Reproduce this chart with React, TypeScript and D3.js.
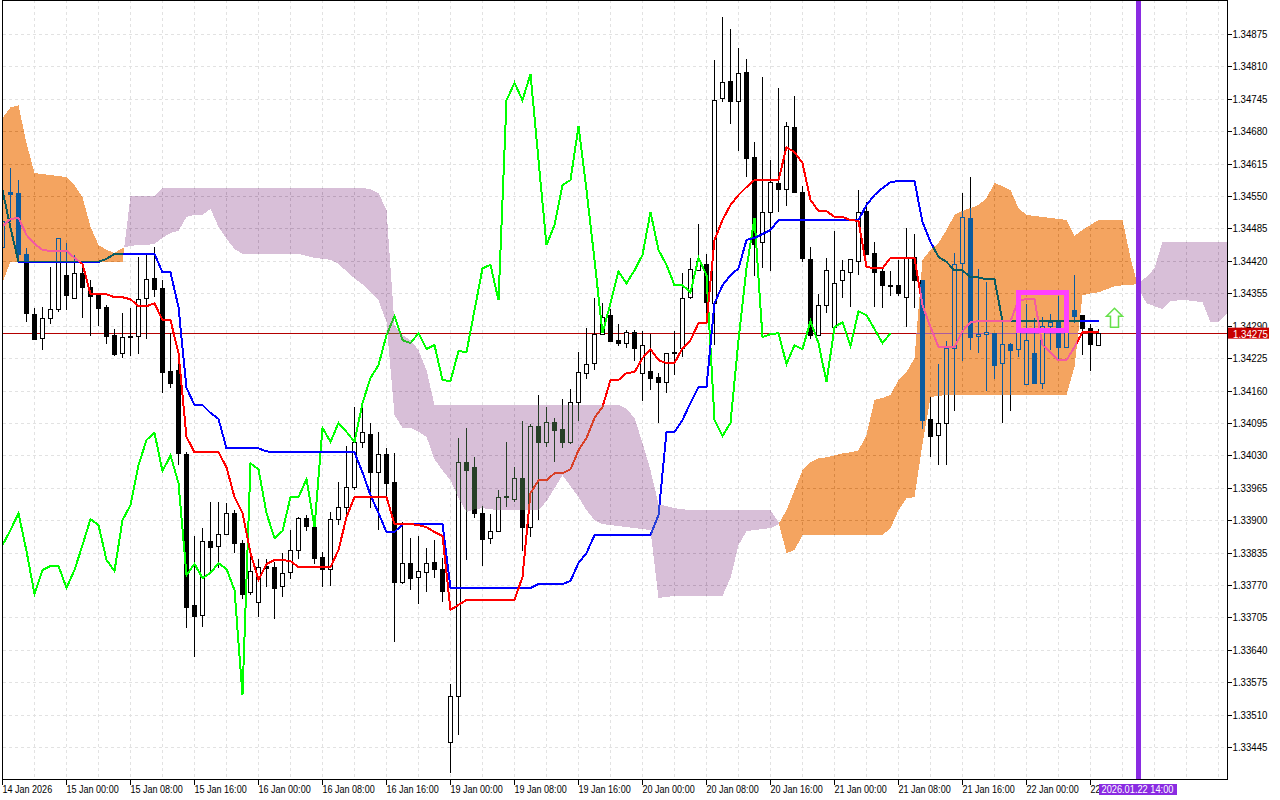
import * as d3 from "d3";
import { useEffect, useRef } from "react";

// all prices are in points (1.34275 = 134275), bar index 0 is the left edge
const opens = [
  134447,134559,134557,134433,134314,134266,134306,134324,134392,134346,
  134396,134368,134354,134328,134272,134236,134268,134270,134346,134386,
  134366,134200,134202,134033,133729,133709,133859,133849,133873,133915,
  133855,133755,133735,133809,133807,133767,133795,133841,133905,133887,
  133827,133801,133903,133927,133967,134056,134072,133997,134033,133977,
  133775,133815,133785,133795,133817,133803,133456,133548,134017,134007,
  133915,133865,133879,133947,133943,133985,133887,134088,134056,134096,
  134082,134056,134136,134196,134216,134274,134312,134262,134256,134278,
  134196,134200,134188,134178,134236,134246,134348,134402,134413,134336,
  134747,134780,134741,134798,134629,134457,134519,134577,134565,134689,
  134559,134423,134272,134332,134288,134382,134398,134419,134521,134435,
  134400,134372,134372,134348,134427,134382,134102,134070,134094,134246,
  134415,134505,134270,134274,134276,134216,134254,134244,134174,134236,
  134176,134290,134298,134248,134322,134312,134286,134252,
];
const highs = [
  134573,134607,134583,134447,134326,134328,134409,134467,134457,134433,
  134417,134382,134356,134332,134284,134316,134326,134429,134435,134449,
  134382,134276,134242,134037,133869,133885,133937,133937,133935,133921,
  133861,133845,133823,133823,133817,133835,133881,133907,133911,133905,
  133837,133917,133977,134049,134128,134128,134096,134078,134045,134035,
  133897,133865,133869,133845,133861,133825,133572,134066,134086,134027,
  133929,133913,133961,134058,134007,134100,134094,134152,134128,134106,
  134144,134164,134238,134286,134346,134336,134324,134294,134282,134282,
  134280,134274,134196,134236,134280,134396,134427,134495,134435,134824,
  134910,134886,134848,134826,134659,134790,134623,134768,134699,134751,
  134571,134449,134354,134427,134481,134423,134423,134563,134539,134459,
  134409,134400,134423,134487,134475,134382,134148,134214,134260,134437,
  134557,134589,134404,134378,134276,134308,134256,134332,134334,134306,
  134308,134314,134350,134318,134392,134312,134294,134284,
];
const lows = [
  134427,134499,134419,134298,134262,134242,134294,134318,134322,134346,
  134306,134270,134290,134254,134230,134226,134230,134234,134264,134348,
  134156,134166,134011,133684,133626,133686,133797,133805,133873,133835,
  133743,133751,133707,133767,133703,133747,133783,133823,133879,133813,
  133767,133769,133891,133907,133961,134045,133925,133881,133947,133656,
  133773,133761,133733,133757,133785,133737,133394,133470,133821,133905,
  133809,133853,133877,133927,133937,133839,133867,133901,134047,134017,
  134045,134054,134100,134184,134202,134274,134258,134250,134246,134220,
  134140,134162,134096,134156,134192,134228,134344,134400,134306,134252,
  134739,134695,134641,134589,134390,134406,134400,134519,134531,134557,
  134419,134264,134272,134316,134286,134346,134328,134392,134433,134328,
  134326,134350,134350,134288,134326,134084,134027,134011,134011,134120,
  134220,134242,134236,134160,134184,134096,134120,134228,134174,134176,
  134164,134242,134222,134248,134296,134232,134200,134252,
];
const closes = [
  134499,134555,134433,134316,134264,134306,134324,134465,134352,134396,
  134368,134350,134326,134270,134234,134268,134269,134344,134384,134364,
  134198,134176,134035,133725,133707,133859,133847,133873,133915,133855,
  133751,133797,133807,133805,133763,133793,133841,133905,133889,133825,
  133801,133903,133927,133967,134056,134076,133997,134033,133975,133775,
  133815,133783,133797,133815,133801,133757,133548,134017,134001,133915,
  133863,133879,133947,133949,133985,133887,134088,134056,134096,134080,
  134056,134136,134198,134214,134274,134308,134260,134256,134278,134246,
  134252,134186,134178,134236,134237,134346,134404,134419,134338,134743,
  134778,134741,134796,134627,134453,134519,134579,134565,134691,134559,
  134425,134272,134332,134402,134376,134402,134423,134519,134433,134398,
  134372,134370,134356,134425,134382,134100,134068,134094,134246,134413,
  134507,134268,134274,134278,134212,134254,134242,134300,134262,134176,
  134290,134298,134248,134298,134310,134286,134254,134275,
];

const tenkan = [
  134491,134505,134507,134473,134455,134443,134441,134441,134441,134427,
  134415,134354,134354,134354,134348,134348,134344,134330,134330,134336,
  134302,134302,134236,134068,134037,134037,134037,134037,134007,133947,
  133915,133835,133781,133813,133821,133821,133819,133807,133807,133807,
  133807,133807,133841,133907,133947,133947,133947,133947,133947,133893,
  133893,133893,133891,133887,133877,133869,133721,133731,133741,133741,
  133741,133741,133741,133741,133741,133787,133955,133981,133981,133995,
  133995,134003,134041,134066,134106,134128,134182,134182,134196,134198,
  134226,134244,134222,134216,134216,134246,134262,134296,134296,134463,
  134503,134533,134553,134569,134583,134583,134583,134583,134649,134639,
  134617,134543,134521,134521,134509,134509,134503,134501,134409,134406,
  134406,134427,134427,134427,134427,134332,134288,134248,134248,134248,
  134280,134298,134300,134300,134300,134300,134300,134342,134344,134344,
  134252,134238,134222,134222,134248,134278,134278,134278,
];
const kijun = [
  134563,134487,134419,134419,134419,134419,134419,134419,134419,134419,
  134419,134419,134419,134425,134435,134435,134435,134435,134435,134435,
  134398,134398,134328,134166,134132,134132,134116,134104,134045,134045,
  134045,134045,134045,134039,134037,134037,134037,134037,134037,134037,
  134037,134037,134037,134037,134037,133997,133951,133915,133877,133877,
  133893,133893,133893,133893,133893,133893,133765,133765,133765,133765,
  133765,133765,133765,133765,133765,133765,133765,133773,133773,133773,
  133773,133779,133815,133835,133871,133871,133871,133871,133871,133871,
  133871,133871,133911,134078,134078,134102,134136,134168,134168,134336,
  134372,134392,134406,134463,134467,134475,134483,134503,134503,134503,
  134503,134503,134503,134503,134503,134503,134503,134503,134533,134553,
  134567,134579,134581,134581,134581,134499,134459,134429,134419,134402,
  134402,134388,134388,134384,134384,134300,134300,134300,134300,134300,
  134300,134300,134300,134300,134300,134300,134300,134300,
];
const chikou = [
  133851,133881,133915,133839,133753,133801,133809,133809,133765,133801,
  133851,133903,133891,133821,133799,133901,133931,134011,134062,134076,
  133999,134031,133975,133791,133813,133785,133795,133815,133803,133761,
  133550,134015,134003,133915,133865,133879,133947,133947,133983,133887,
  134086,134058,134096,134078,134058,134136,134186,134212,134272,134310,
  134262,134256,134276,134244,134252,134182,134180,134240,134238,134322,
  134406,134413,134342,134743,134778,134743,134796,134623,134453,134493,
  134573,134583,134691,134563,134423,134276,134336,134400,134376,134402,
  134433,134519,134443,134413,134372,134372,134358,134427,134392,134102,
  134070,134096,134262,134406,134507,134268,134274,134276,134214,134252,
  134244,134300,134256,134178,134288,134298,134250,134320,134312,134284,
  134256,134276,
];
const spanA = [
  134707,134729,134733,134657,134597,134595,134593,134591,134589,134573,
  134549,134489,134453,134443,134437,134447,134451,134453,134453,134455,
  134467,134477,134481,134509,134513,134513,134525,134489,134465,134445,
  134435,134435,134435,134435,134435,134435,134435,134435,134431,134427,
  134425,134423,134415,134400,134386,134374,134358,134342,134298,134112,
  134086,134086,134078,134068,134023,134001,133981,133945,133917,133923,
  133925,133923,133921,133921,133921,133921,133921,133921,133939,133965,
  133991,133969,133947,133921,133901,133893,133891,133889,133887,133885,
  133883,133881,133745,133747,133749,133749,133749,133749,133749,133749,
  133749,133785,133851,133879,133881,133883,133885,133893,133921,133961,
  134001,134017,134025,134027,134031,134035,134037,134041,134072,134142,
  134146,134152,134182,134198,134226,134423,134443,134457,134483,134513,
  134521,134527,134533,134547,134577,134571,134563,134527,134513,134511,
  134509,134507,134505,134503,134471,134483,134493,134503,134503,134503,
  134503,134427,134366,134336,134330,134324,134340,134342,134342,134340,
  134338,134298,134298,134314,
];
const spanB = [
  134378,134419,134419,134419,134419,134419,134419,134419,134419,134419,
  134419,134419,134419,134419,134419,134419,134551,134551,134551,134551,
  134567,134567,134567,134567,134567,134567,134567,134567,134567,134567,
  134567,134567,134567,134567,134567,134567,134567,134567,134567,134567,
  134567,134567,134567,134567,134567,134567,134565,134557,134523,134292,
  134272,134262,134242,134202,134132,134132,134132,134132,134132,134132,
  134132,134132,134132,134132,134132,134132,134132,134132,134132,134132,
  134132,134132,134132,134132,134132,134132,134132,134132,134124,134106,
  134056,134001,133933,133929,133925,133923,133921,133921,133921,133921,
  133921,133921,133921,133921,133921,133921,133921,133897,133835,133841,
  133871,133871,133871,133871,133871,133871,133871,133871,133871,133871,
  133871,133885,133921,133945,133947,134054,134148,134150,134152,134152,
  134152,134152,134152,134152,134152,134152,134152,134152,134152,134152,
  134152,134152,134152,134152,134208,134352,134356,134358,134364,134370,
  134372,134372,134376,134389,134406,134459,134459,134459,134459,134459,
  134459,134459,134459,134459,
];

const priceTicks = [
  134875,134810,134745,134680,134615,134550,134485,134420,134355,134290,134225,134160,
  134095,134030,133965,133900,133835,133770,133705,133640,133575,133510,133445,
];
const timeBars = [0,8,16,24,32,40,48,56,64,72,80,88,96,104,112,120,128,136];
const timeLabels = [
  "14 Jan 2026","15 Jan 00:00","15 Jan 08:00","15 Jan 16:00","16 Jan 00:00","16 Jan 08:00",
  "16 Jan 16:00","19 Jan 00:00","19 Jan 08:00","19 Jan 16:00","20 Jan 00:00","20 Jan 08:00",
  "20 Jan 16:00","21 Jan 00:00","21 Jan 08:00","21 Jan 16:00","22 Jan 00:00","22",
];
const lastPrice = 134275;
const markerBar = 142;
const markerLabel = "2026.01.22 14:00";
const boxBars = [127, 133];
const boxPrices = [134358, 134282];
const arrowBar = 139;
const arrowPrice = 134326;

const fontFamily = "'Liberation Sans',sans-serif";

// the terminal font is narrower than anything installed, squeeze the glyphs a bit
function squeeze(node: SVGTextElement, factor: number) {
  node.setAttribute("textLength", String(node.getComputedTextLength() * factor));
  node.setAttribute("lengthAdjust", "spacingAndGlyphs");
}

export default function App() {
  const svgRef = useRef<SVGSVGElement | null>(null);

  useEffect(() => {
    if (!svgRef.current) return;
    const svg = d3.select(svgRef.current);
    const width = 1280;
    const height = 800;
    const left = 2.5;
    const right = 1227.5;
    const bottom = 779.5;

    svg.selectAll("*").remove();

    const x = d3.scaleLinear().domain([0, 153]).range([2.5, 1226.5]);
    const y = d3.scaleLinear().domain([134875, 133445]).range([34.5, 747.5]);

    svg.append("rect").attr("width", width).attr("height", height).attr("fill", "#fff");

    svg
      .append("clipPath")
      .attr("id", "plot")
      .append("rect")
      .attr("x", left)
      .attr("y", 0)
      .attr("width", right - left)
      .attr("height", bottom);

    const plot = svg.append("g").attr("clip-path", "url(#plot)").attr("shape-rendering", "crispEdges");

    // the clip isolates this group, so the blend needs its own white backdrop
    plot.append("rect").attr("width", width).attr("height", height).attr("fill", "#fff");

    // grid
    plot
      .selectAll("line.h")
      .data(priceTicks)
      .join("line")
      .attr("class", "h")
      .attr("x1", left)
      .attr("x2", right)
      .attr("y1", (d) => y(d))
      .attr("y2", (d) => y(d))
      .attr("stroke", "#e2e2e2")
      .attr("stroke-dasharray", "3,3");
    plot
      .selectAll("line.v")
      .data(d3.range(4, 154, 4))
      .join("line")
      .attr("class", "v")
      .attr("x1", (d) => x(d))
      .attr("x2", (d) => x(d))
      .attr("y1", 0)
      .attr("y2", bottom)
      .attr("stroke", "#e2e2e2")
      .attr("stroke-dasharray", "3,3");

    // last price line
    plot
      .append("line")
      .attr("x1", left)
      .attr("x2", right)
      .attr("y1", y(lastPrice))
      .attr("y2", y(lastPrice))
      .attr("stroke", "#b40000");

    // candles
    const bars = opens.map((o, i) => ({ i, o, h: highs[i], l: lows[i], c: closes[i] }));
    const candle = plot.append("g").selectAll("g").data(bars).join("g");
    candle
      .append("line")
      .attr("x1", (d) => x(d.i))
      .attr("x2", (d) => x(d.i))
      .attr("y1", (d) => y(d.h))
      .attr("y2", (d) => y(d.l))
      .attr("stroke", "#000");
    candle
      .append("rect")
      .attr("x", (d) => x(d.i) - 2)
      .attr("width", 4)
      .attr("y", (d) => y(Math.max(d.o, d.c)))
      .attr("height", (d) => Math.max(0, Math.abs(y(d.o) - y(d.c))))
      .attr("fill", (d) => (d.c >= d.o ? "#fff" : "#000"))
      .attr("stroke", "#000");

    // indicator lines
    const line = d3
      .line<number>()
      .x((_, i) => x(i))
      .y((d) => y(d));
    const lines: [number[], string][] = [
      [chikou, "#00ff00"],
      [kijun, "#0000ff"],
      [tenkan, "#ff0000"],
    ];
    lines.forEach(([values, colour]) => {
      plot
        .append("path")
        .datum(values)
        .attr("fill", "none")
        .attr("stroke", colour)
        .attr("stroke-width", 2)
        .attr("d", line);
    });

    // cloud, crossing points added so both colours meet at the cross
    const cloud: { i: number; a: number; b: number }[] = [];
    spanA.forEach((a, i) => {
      const b = spanB[i];
      cloud.push({ i, a, b });
      if (i < spanA.length - 1) {
        const d0 = a - b;
        const d1 = spanA[i + 1] - spanB[i + 1];
        if (d0 * d1 < 0) {
          const t = d0 / (d0 - d1);
          const v = a + (spanA[i + 1] - a) * t;
          cloud.push({ i: i + t, a: v, b: v });
        }
      }
    });
    const area = (up: boolean) =>
      d3
        .area<{ i: number; a: number; b: number }>()
        .defined((d) => (up ? d.a >= d.b : d.b >= d.a))
        .x((d) => x(d.i))
        .y0((d) => y(d.a))
        .y1((d) => y(d.b));
    // fills are the inverse of sandybrown / thistle, so white shows the real colour
    plot
      .append("path")
      .datum(cloud)
      .attr("fill", "rgb(11,91,159)")
      .style("mix-blend-mode", "difference")
      .attr("d", area(true));
    plot
      .append("path")
      .datum(cloud)
      .attr("fill", "rgb(39,64,39)")
      .style("mix-blend-mode", "difference")
      .attr("d", area(false));

    // box and arrow objects
    plot
      .append("rect")
      .attr("x", x(boxBars[0]))
      .attr("y", y(boxPrices[0]))
      .attr("width", x(boxBars[1]) - x(boxBars[0]))
      .attr("height", y(boxPrices[1]) - y(boxPrices[0]))
      .attr("fill", "none")
      .attr("stroke", "#ff40ff")
      .attr("stroke-width", 5);
    plot
      .append("path")
      .attr("transform", `translate(${x(arrowBar)},${y(arrowPrice)})`)
      .attr("d", "M0,0L8,8H4V19H-4V8H-8Z")
      .attr("fill", "#fff")
      .attr("stroke", "#66e04a")
      .attr("stroke-width", 1.5)
      .attr("shape-rendering", "auto");

    // marker line
    plot
      .append("line")
      .attr("x1", x(markerBar))
      .attr("x2", x(markerBar))
      .attr("y1", 0)
      .attr("y2", bottom)
      .attr("stroke", "#8a2be2")
      .attr("stroke-width", 5);

    // frame
    svg
      .append("rect")
      .attr("x", left)
      .attr("y", 0.5)
      .attr("width", right - left)
      .attr("height", bottom - 0.5)
      .attr("fill", "none")
      .attr("stroke", "#000")
      .attr("shape-rendering", "crispEdges");

    // axes
    const yAxis = d3
      .axisRight(y)
      .tickValues(priceTicks)
      .tickSize(4)
      .tickPadding(1)
      .offset(0)
      .tickFormat((d) => ((d as number) / 1e5).toFixed(5));
    const yg = svg.append("g").attr("transform", `translate(${right},0)`).call(yAxis as any);
    const xAxis = d3
      .axisBottom(x)
      .tickValues(timeBars)
      .tickSize(5)
      .tickPadding(0)
      .offset(0)
      .tickFormat((d) => timeLabels[timeBars.indexOf(d as number)]);
    const xg = svg.append("g").attr("transform", `translate(0,${bottom})`).call(xAxis as any);

    [yg, xg].forEach((g) => {
      g.select(".domain").remove();
      g.attr("shape-rendering", "crispEdges");
      g.selectAll("line").attr("stroke", "#000");
      g.selectAll("text")
        .attr("fill", "#000")
        .attr("font-family", fontFamily)
        .attr("font-size", 11);
    });
    xg.selectAll("text").attr("text-anchor", "start").attr("y", 5).attr("dy", "0.8em");
    xg.selectAll<SVGTextElement, number>("text").each(function () {
      squeeze(this, 0.82);
    });
    yg.selectAll<SVGTextElement, number>("text").each(function () {
      squeeze(this, 0.88);
    });

    // price tag and time tag sit on top of the axes
    const priceTag = svg.append("g");
    priceTag
      .append("rect")
      .attr("x", 1228)
      .attr("y", y(lastPrice) - 6)
      .attr("width", 41)
      .attr("height", 11)
      .attr("fill", "#c80000");
    priceTag
      .append("text")
      .attr("x", 1233)
      .attr("y", y(lastPrice) + 4)
      .attr("fill", "#fff")
      .attr("font-family", fontFamily)
      .attr("font-size", 11)
      .text((lastPrice / 1e5).toFixed(5))
      .each(function () {
        squeeze(this as SVGTextElement, 0.88);
      });

    const timeTag = svg.append("g");
    timeTag
      .append("rect")
      .attr("x", x(markerBar) - 39.5)
      .attr("y", 784)
      .attr("width", 78)
      .attr("height", 11)
      .attr("fill", "#8a2be2");
    timeTag
      .append("text")
      .attr("x", x(markerBar) - 37)
      .attr("y", 793)
      .attr("fill", "#fff")
      .attr("font-family", fontFamily)
      .attr("font-size", 11)
      .text(markerLabel)
      .each(function () {
        squeeze(this as SVGTextElement, 0.84);
      });
  }, []);

  return (
    <svg
      ref={svgRef}
      width={1280}
      height={800}
      style={{ position: "fixed", left: 0, top: 0, display: "block" }}
      aria-label="Candlestick chart with Ichimoku cloud"
    />
  );
}
